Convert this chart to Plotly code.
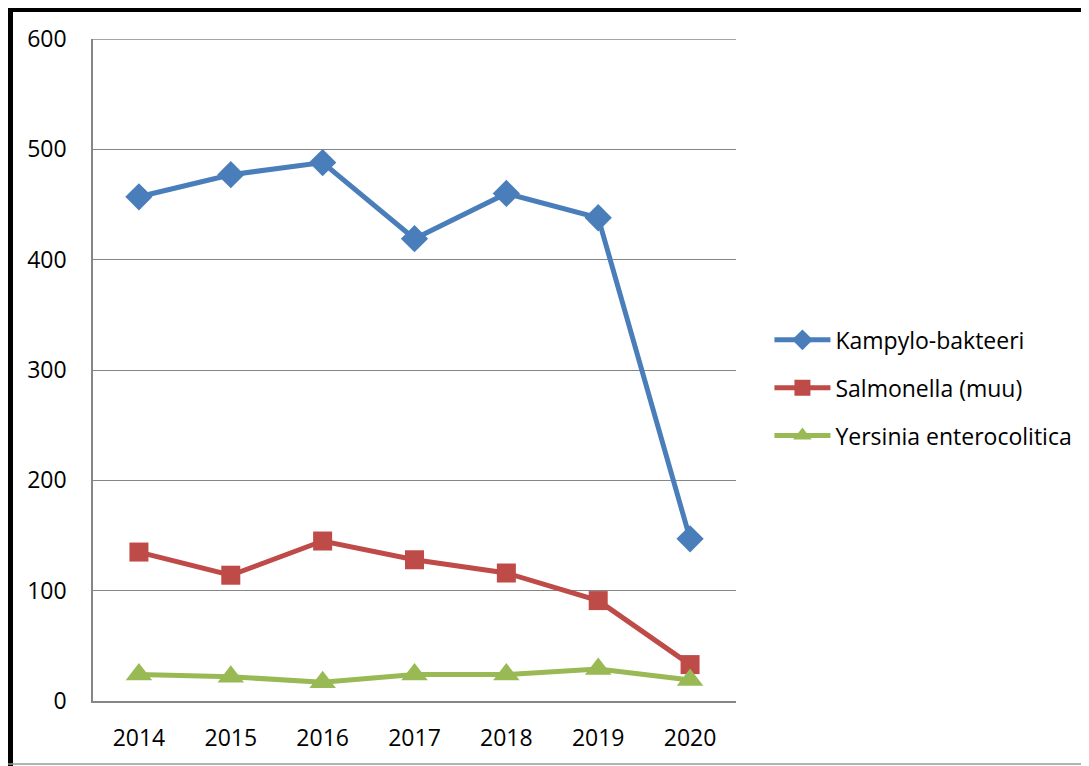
import plotly.graph_objects as go

years = ["2014", "2015", "2016", "2017", "2018", "2019", "2020"]
kampylo = [457, 477, 488, 419, 460, 438, 147]
salmonella = [135, 114, 145, 128, 116, 91, 33]
yersinia = [24, 22, 17, 24, 24, 29, 19]
y_ticks = [0, 100, 200, 300, 400, 500, 600]

series = [
    ("Kampylo-bakteeri", kampylo, "#4A7EBB", "diamond", 21),
    ("Salmonella (muu)", salmonella, "#BE4B48", "square", 19),
    ("Yersinia enterocolitica", yersinia, "#98B954", "triangle-up", 23),
]

fig = go.Figure()
for i, (name, vals, col, sym, sz) in enumerate(series):
    fig.add_trace(go.Scatter(
        x=years, y=vals, name=name, mode="lines+markers",
        line=dict(color=col, width=5),
        marker=dict(symbol=sym, size=sz, color=col),
        legendgroup=f"g{i}",
    ))

FONT = "Open Sans"
fig.update_layout(
    width=1089, height=766,
    margin=dict(l=85, r=361, t=31, b=73),
    paper_bgcolor="white", plot_bgcolor="white",
    font=dict(family=FONT, size=23, color="black"),
    showlegend=True,
    legend=dict(
        x=1.052, y=0.473, xanchor="left", yanchor="middle",
        font=dict(family=FONT, size=23, color="black"),
        tracegroupgap=15, itemwidth=56, bgcolor="rgba(0,0,0,0)",
    ),
    xaxis=dict(
        type="category", range=[-0.5, 6.5],
        showgrid=False, showline=True, linecolor="#868686", linewidth=1.5,
        ticks="", ticklabelstandoff=16, zeroline=False,
    ),
    yaxis=dict(
        range=[0, 600], tickvals=y_ticks, showgrid=True,
        gridcolor="#868686", gridwidth=1.3,
        showline=True, linecolor="#868686", linewidth=1.5,
        ticks="", ticklabelstandoff=20, zeroline=False,
    ),
)

# top gridline at 600 (plotly omits the gridline on the range edge)
fig.add_shape(type="line", xref="paper", yref="y", layer="below",
              x0=0, x1=1, y0=600, y1=600,
              line=dict(color="#868686", width=1.3))

# outer frame (thick black left and top borders)
fig.add_shape(type="line", xref="paper", yref="paper",
              x0=-0.1283, x1=-0.1283, y0=1.0485, y1=-0.12,
              line=dict(color="black", width=5))
fig.add_shape(type="line", xref="paper", yref="paper",
              x0=-0.132, x1=1.6, y0=1.0446, y1=1.0446,
              line=dict(color="black", width=5))
fig.add_shape(type="line", xref="paper", yref="paper",
              x0=-0.132, x1=1.6, y0=-0.0952, y1=-0.0952,
              line=dict(color="#9a9a9a", width=1.5))

fig.write_html("out.html")
